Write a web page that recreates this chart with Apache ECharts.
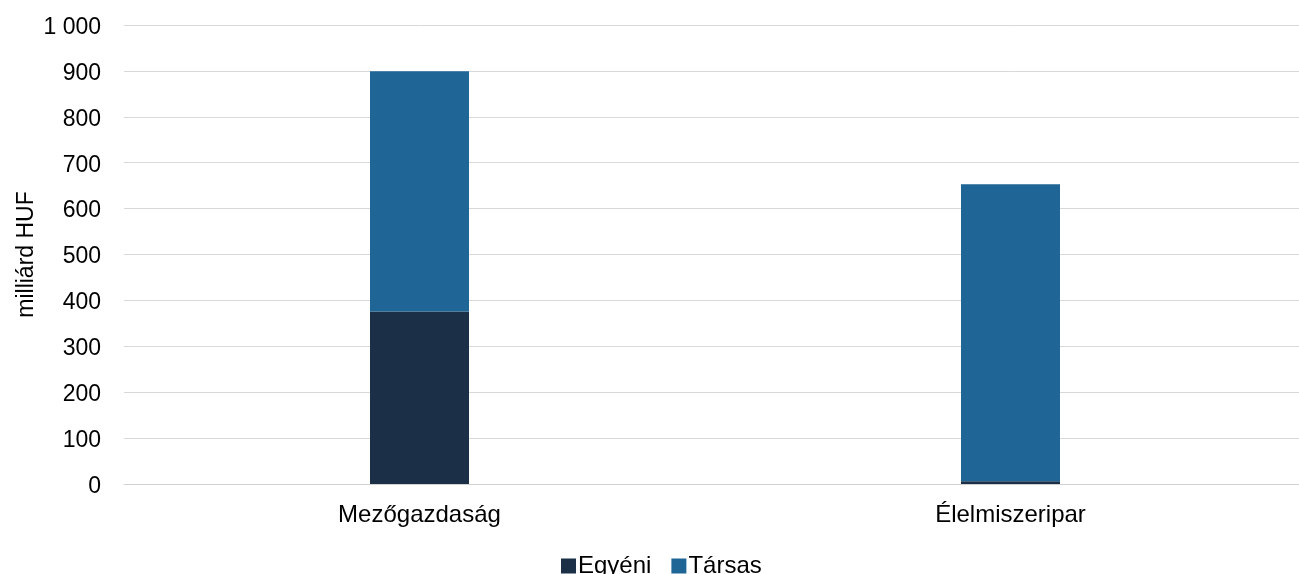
<!DOCTYPE html>
<html>
<head>
<meta charset="utf-8">
<script src="https://cdn.jsdelivr.net/npm/echarts@6/dist/echarts.min.js"></script>
<style>html,body{margin:0;padding:0;background:#fff;overflow:hidden}#c{width:1306px;height:574px}</style>
</head>
<body>
<div id="c"></div>
<script>
const categories = ['Mezőgazdaság', 'Élelmiszeripar'];
const egyeni = [376, 6];
const tarsas = [523, 647];
const seriesNames = ['Egyéni', 'Társas'];
const yAxisName = 'milliárd HUF';

const chart = echarts.init(document.getElementById('c'), null, {renderer: 'canvas'});
const font = 'Liberation Sans, Arial, sans-serif';
chart.setOption({
  animation: false,
  textStyle: {fontFamily: font},
  grid: {left: 124, right: 0, top: 25, bottom: 90},
  legend: {
    bottom: -9, left: 556, itemWidth: 15, itemHeight: 15, itemGap: 20,
    icon: 'rect',
    textStyle: {fontSize: 24, color: '#000', fontFamily: font, padding: [0, 0, 0, -3]},
    data: seriesNames
  },
  xAxis: {
    type: 'category', data: categories,
    axisLine: {lineStyle: {color: '#d0d0d0', width: 1}},
    axisTick: {show: false},
    axisLabel: {fontSize: 24, color: '#000', margin: 19, fontFamily: font}
  },
  yAxis: {
    type: 'value', min: 0, max: 1000, interval: 100,
    name: yAxisName, nameLocation: 'middle', nameGap: 86, nameRotate: 90,
    nameMoveOverlap: false,
    nameTextStyle: {fontSize: 23, color: '#000', fontFamily: font},
    axisLine: {show: false}, axisTick: {show: false},
    axisLabel: {color: '#000', margin: 23,
      formatter: v => '{t|' + String(v).replace(/\B(?=(\d{3})+(?!\d))/g, ' ') + '}',
      rich: {t: {fontSize: 23, color: '#000', fontFamily: font, padding: [5, 0, 0, 0]}}},
    splitLine: {lineStyle: {color: '#d9d9d9', width: 1}}
  },
  series: [
    {name: seriesNames[0], type: 'bar', stack: 'a', data: egyeni, barWidth: 99,
     itemStyle: {color: '#1b3046'}},
    {name: seriesNames[1], type: 'bar', stack: 'a', data: tarsas, barWidth: 99,
     itemStyle: {color: '#1f6696'}}
  ]
});
</script>
</body>
</html>
